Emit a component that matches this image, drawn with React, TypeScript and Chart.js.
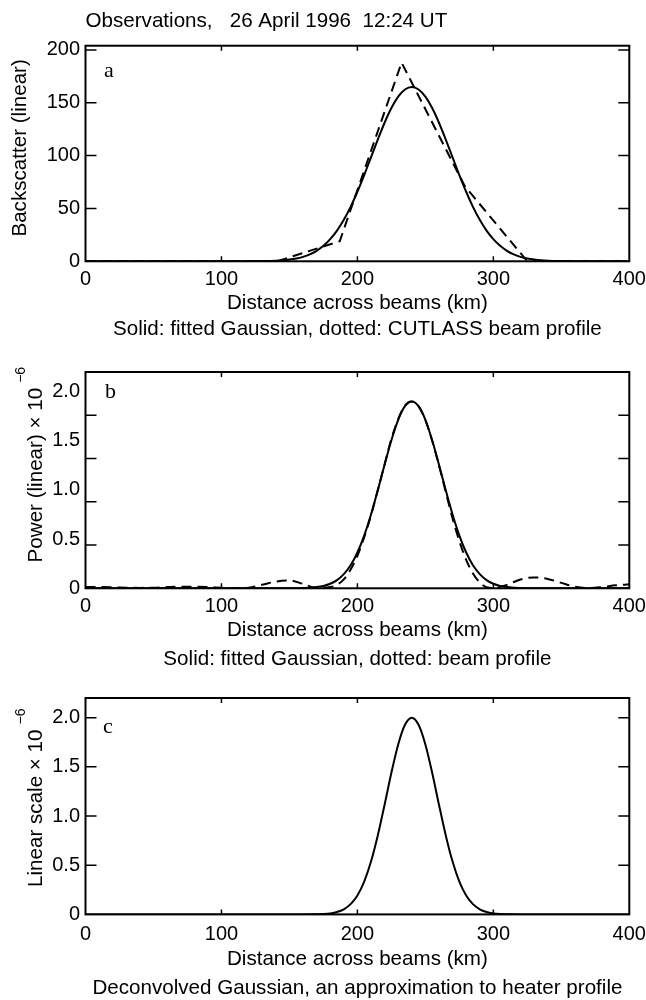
import React, { useEffect, useRef } from "react";
import { Chart, registerables } from "chart.js";

Chart.register(...registerables);
Chart.defaults.color = "#000";

const SANS = "'Liberation Sans', Arial, Helvetica, sans-serif";
const SERIF = "'Liberation Serif', 'Times New Roman', serif";
const TEXT_SIZE = 20.6;

// ---- texts ----
const headerText = "Observations,   26 April 1996  12:24 UT";
const xAxisTitle = "Distance across beams (km)";
const captionA = "Solid: fitted Gaussian, dotted: CUTLASS beam profile";
const captionB = "Solid: fitted Gaussian, dotted: beam profile";
const captionC = "Deconvolved Gaussian, an approximation to heater profile";
const yTitleA = "Backscatter (linear)";
const yTitleB = "Power (linear) × 10";
const yTitleC = "Linear scale × 10";
const yExponent = "−6";

// ---- ticks ----
const xTickValues = [0, 100, 200, 300, 400];
const xTickMarks = [100, 200, 300];
const yTicksA = [0, 50, 100, 150, 200];
const yTickMarksA = [50, 100, 150, 200];
const yTicksBC = [0, 0.5, 1.0, 1.5, 2.0];
const yTickMarksB = [0.44, 0.88, 1.32, 1.76];
const yTickMarksC = [0.5, 1.0, 1.5, 2.0];

// ---- data ----
const gridKm = [
  0, 10, 20, 30, 40, 50, 60, 70, 80, 90, 100, 110, 120, 130, 140,
  145, 150, 155, 160, 165, 170, 175, 180, 185, 190, 195, 200, 205, 210, 215,
  220, 225, 230, 235, 240, 245, 250, 255, 260, 265, 270, 275, 280, 285, 290,
  295, 300, 305, 310, 315, 320, 325, 330, 335,
  340, 350, 360, 370, 380, 390, 400,
];

// panel a: fitted Gaussian of backscatter
const fittedA = [
  0, 0, 0, 0, 0, 0, 0, 0, 0, 0, 0, 0, 0.04, 0.16, 0.5,
  0.9, 1.6, 2.6, 4.2, 6.5, 9.9, 14.6, 20.9, 29.0, 39.2, 51.5, 65.8, 81.6, 98.4, 115.2,
  131.1, 145.0, 155.8, 162.6, 165.0, 162.6, 155.8, 145.0, 131.1, 115.2, 98.4, 81.6, 65.8, 51.5, 39.2,
  29.0, 20.9, 14.6, 9.9, 6.5, 4.2, 2.6, 1.6, 0.9,
  0.5, 0.16, 0.04, 0, 0, 0, 0,
];

// panel a: CUTLASS beam profile (sampled per beam)
const cutlassKm = [0, 49.5, 95.5, 141, 187, 232.5, 279, 325, 371, 400];
const cutlassA = [0, 0, 0, 0, 19, 188, 71, 0, 0, 0];

// panel b: fitted Gaussian of beam power (x 1e-6)
const fittedB = [
  0, 0, 0, 0, 0, 0, 0, 0, 0, 0, 0, 0, 0, 0, 0,
  0, 0, 0.001, 0.003, 0.006, 0.012, 0.024, 0.046, 0.083, 0.144, 0.234, 0.364, 0.536, 0.75, 0.996,
  1.257, 1.506, 1.714, 1.852, 1.9, 1.852, 1.714, 1.506, 1.257, 0.996, 0.75, 0.536, 0.364, 0.234, 0.144,
  0.083, 0.046, 0.024, 0.012, 0.006, 0.003, 0.001, 0, 0,
  0, 0, 0, 0, 0, 0, 0,
];

// panel b: beam profile (x 1e-6)
const beamKm = [
  0, 10, 20, 30, 40, 50, 60, 70, 80, 90, 100, 110, 120, 130, 140, 150, 160, 170, 180,
  185, 190, 195, 200, 205, 210, 215, 220, 225, 230, 235, 240, 245, 250, 255, 260, 265,
  270, 275, 280, 285, 290, 295, 300,
  310, 320, 330, 340, 350, 360, 370, 380, 390, 400,
];
const beamB = [
  0.012, 0.012, 0.01, 0.006, 0.004, 0.006, 0.012, 0.016, 0.016, 0.012, 0.005, 0.0, 0.006,
  0.035, 0.068, 0.08, 0.045, 0.003, 0.012,
  0.035, 0.09, 0.19, 0.33, 0.52, 0.74, 1.0, 1.26, 1.52, 1.72, 1.86, 1.9, 1.85, 1.71, 1.5, 1.25, 0.98,
  0.71, 0.48, 0.29, 0.15, 0.06, 0.01, 0.004,
  0.035, 0.09, 0.11, 0.095, 0.055, 0.015, 0.001, 0.012, 0.03, 0.04,
];

// panel c: deconvolved Gaussian (x 1e-6)
const heaterC = [
  0, 0, 0, 0, 0, 0, 0, 0, 0, 0, 0, 0, 0, 0, 0,
  0, 0, 0, 0, 0.0005, 0.0016, 0.0042, 0.0104, 0.024, 0.052, 0.104, 0.193, 0.334, 0.537, 0.803,
  1.115, 1.44, 1.728, 1.928, 2.0, 1.928, 1.728, 1.44, 1.115, 0.803, 0.537, 0.334, 0.193, 0.104, 0.052,
  0.024, 0.0104, 0.0042, 0.0016, 0.0005, 0, 0, 0, 0,
  0, 0, 0, 0, 0, 0, 0,
];

const zip = (xs: number[], ys: number[]) => xs.map((x, i) => ({ x, y: ys[i] }));

const solid = (data: any) => ({
  data,
  borderColor: "#000",
  borderWidth: 2,
  pointRadius: 0,
  fill: false,
  cubicInterpolationMode: "monotone",
});
const dashed = (data: any, smooth: boolean) => ({
  data,
  borderColor: "#000",
  borderWidth: 2,
  borderDash: [10, 6],
  pointRadius: 0,
  fill: false,
  tension: 0,
  cubicInterpolationMode: smooth ? "monotone" : "default",
});

const fmtInt = (v: number) => String(v);
const fmtDec = (v: number) => (v === 0 ? "0" : v.toFixed(1));

const framePlugin = {
  id: "panelFrame",
  afterDatasetsDraw(chart: any, _args: any, opts: any) {
    const { ctx, chartArea } = chart;
    const { left, right, top, bottom } = chartArea;
    const xs = chart.scales.x;
    const ys = chart.scales.y;
    ctx.save();
    ctx.strokeStyle = "#000";
    ctx.lineWidth = 2;
    ctx.strokeRect(left, top, right - left, bottom - top);
    ctx.lineWidth = 1.5;
    ctx.beginPath();
    opts.xMarks.forEach((v: number) => {
      const px = xs.getPixelForValue(v);
      ctx.moveTo(px, top);
      ctx.lineTo(px, top + opts.xLen);
      ctx.moveTo(px, bottom);
      ctx.lineTo(px, bottom - opts.xLen);
    });
    opts.yMarks.forEach((v: number) => {
      const py = ys.getPixelForValue(v);
      ctx.moveTo(left, py);
      ctx.lineTo(left + opts.yLen, py);
      ctx.moveTo(right, py);
      ctx.lineTo(right - opts.yLen, py);
    });
    ctx.stroke();

    ctx.fillStyle = "#000";
    ctx.textAlign = "left";
    ctx.textBaseline = "alphabetic";
    ctx.font = `22px ${SERIF}`;
    ctx.fillText(opts.letter, left + opts.letterDx, top + opts.letterDy);

    ctx.font = `${TEXT_SIZE}px ${SANS}`;
    const w = ctx.measureText(opts.yTitle).width;
    const cy = (top + bottom) / 2 + opts.yTitleDy;
    ctx.translate(0, cy);
    ctx.rotate(-Math.PI / 2);
    ctx.fillText(opts.yTitle, -w / 2, opts.yTitleBase);
    if (opts.yExp) {
      ctx.font = `14px ${SANS}`;
      ctx.fillText(opts.yExp, w / 2 + 5, opts.yExpBase);
    }
    ctx.restore();
  },
};

type PanelCfg = {
  top: number;
  height: number;
  layoutTop: number;
  header?: string;
  yMax: number;
  yTicks: number[];
  yMarks: number[];
  yFmt: (v: number) => string;
  xScaleHeight: number;
  xTickPad: number;
  xTitlePadBottom: number;
  caption: string;
  captionPad: { top: number; bottom: number };
  captionLineHeight: number;
  letter: string;
  letterDx: number;
  letterDy: number;
  yTitle: string;
  yExp?: string;
  yTitleBase: number;
  yExpBase: number;
  yTitleDy: number;
  datasets: any[];
};

const panels: PanelCfg[] = [
  {
    top: 0,
    height: 345,
    layoutTop: 3,
    header: headerText,
    yMax: 204,
    yTicks: yTicksA,
    yMarks: yTickMarksA,
    yFmt: fmtInt,
    xScaleHeight: 56,
    xTickPad: 6,
    xTitlePadBottom: 2,
    caption: captionA,
    captionPad: { top: 0, bottom: 3 },
    captionLineHeight: 1.2,
    letter: "a",
    letterDx: 18.5,
    letterDy: 31.7,
    yTitle: yTitleA,
    yTitleBase: 26,
    yExpBase: 0,
    yTitleDy: -5.6,
    datasets: [solid(zip(gridKm, fittedA)), dashed(zip(cutlassKm, cutlassA), false)],
  },
  {
    top: 345,
    height: 330,
    layoutTop: 27,
    yMax: 2.2,
    yTicks: yTicksBC,
    yMarks: yTickMarksB,
    yFmt: fmtDec,
    xScaleHeight: 57,
    xTickPad: 6,
    xTitlePadBottom: 2.3,
    caption: captionB,
    captionPad: { top: 2, bottom: 3 },
    captionLineHeight: 1.2,
    letter: "b",
    letterDx: 19.5,
    letterDy: 26,
    yTitle: yTitleB,
    yExp: yExponent,
    yTitleBase: 41.7,
    yExpBase: 25,
    yTitleDy: -5,
    datasets: [solid(zip(gridKm, fittedB)), dashed(zip(beamKm, beamB), true)],
  },
  {
    top: 675,
    height: 325,
    layoutTop: 23,
    yMax: 2.2,
    yTicks: yTicksBC,
    yMarks: yTickMarksC,
    yFmt: fmtDec,
    xScaleHeight: 59,
    xTickPad: 8,
    xTitlePadBottom: 2,
    caption: captionC,
    captionPad: { top: 4.3, bottom: 1.7 },
    captionLineHeight: 1.0,
    letter: "c",
    letterDx: 17.5,
    letterDy: 34.7,
    yTitle: yTitleC,
    yExp: yExponent,
    yTitleBase: 41.7,
    yExpBase: 25,
    yTitleDy: 2,
    datasets: [solid(zip(gridKm, heaterC))],
  },
];

function Panel({ cfg }: { cfg: PanelCfg }) {
  const ref = useRef<HTMLCanvasElement | null>(null);
  useEffect(() => {
    if (!ref.current) return;
    const tickFont = { family: SANS, size: 20, lineHeight: 1.2 };
    const textFont = { family: SANS, size: TEXT_SIZE, lineHeight: 1.2 };
    const chart = new Chart(ref.current, {
      type: "line",
      data: { datasets: cfg.datasets },
      plugins: [framePlugin as any],
      options: {
        responsive: false,
        animation: false,
        devicePixelRatio: 1,
        events: [],
        layout: { padding: { top: cfg.layoutTop, left: 0, right: 0, bottom: 0 } },
        plugins: {
          legend: { display: false },
          tooltip: { enabled: false },
          title: {
            display: !!cfg.header,
            text: cfg.header || "",
            align: "start",
            fullSize: false,
            color: "#000",
            font: { ...textFont, weight: "normal" },
            padding: { top: 6, bottom: 12 },
          },
          subtitle: {
            display: true,
            position: "bottom",
            text: cfg.caption,
            fullSize: false,
            color: "#000",
            font: { family: SANS, size: TEXT_SIZE, lineHeight: cfg.captionLineHeight },
            padding: cfg.captionPad,
          },
          panelFrame: {
            xMarks: xTickMarks,
            yMarks: cfg.yMarks,
            xLen: 5,
            yLen: 11,
            letter: cfg.letter,
            letterDx: cfg.letterDx,
            letterDy: cfg.letterDy,
            yTitle: cfg.yTitle,
            yExp: cfg.yExp,
            yTitleBase: cfg.yTitleBase,
            yExpBase: cfg.yExpBase,
            yTitleDy: cfg.yTitleDy,
          },
        } as any,
        scales: {
          x: {
            type: "linear",
            min: 0,
            max: 400,
            grid: { display: false, drawTicks: false },
            border: { display: false },
            ticks: {
              font: tickFont,
              color: "#000",
              padding: cfg.xTickPad,
              maxRotation: 0,
              autoSkip: false,
              callback: (v: any) => fmtInt(Number(v)),
            },
            afterBuildTicks: (s: any) => {
              s.ticks = xTickValues.map((v) => ({ value: v }));
            },
            afterFit: (s: any) => {
              s.height = cfg.xScaleHeight;
              s.paddingLeft = 0;
              s.paddingRight = 16.7;
            },
            title: {
              display: true,
              text: xAxisTitle,
              color: "#000",
              font: textFont,
              padding: { top: 0, bottom: cfg.xTitlePadBottom },
            },
          },
          y: {
            type: "linear",
            min: 0,
            max: cfg.yMax,
            grid: { display: false, drawTicks: false },
            border: { display: false },
            ticks: {
              font: tickFont,
              color: "#000",
              padding: 5.5,
              autoSkip: false,
              callback: (v: any) => cfg.yFmt(Number(v)),
            },
            afterBuildTicks: (s: any) => {
              s.ticks = cfg.yTicks.map((v) => ({ value: v }));
            },
            afterFit: (s: any) => {
              s.width = 85.5;
            },
          },
        },
      } as any,
    });
    return () => chart.destroy();
  }, [cfg]);
  return (
    <canvas
      ref={ref}
      width={646}
      height={cfg.height}
      style={{ position: "absolute", left: 0, top: cfg.top, display: "block" }}
    />
  );
}

export default function App() {
  return (
    <div
      style={{
        position: "absolute",
        left: 0,
        top: 0,
        width: 646,
        height: 1000,
        background: "#fff",
      }}
    >
      {panels.map((p, i) => (
        <Panel key={i} cfg={p} />
      ))}
    </div>
  );
}
